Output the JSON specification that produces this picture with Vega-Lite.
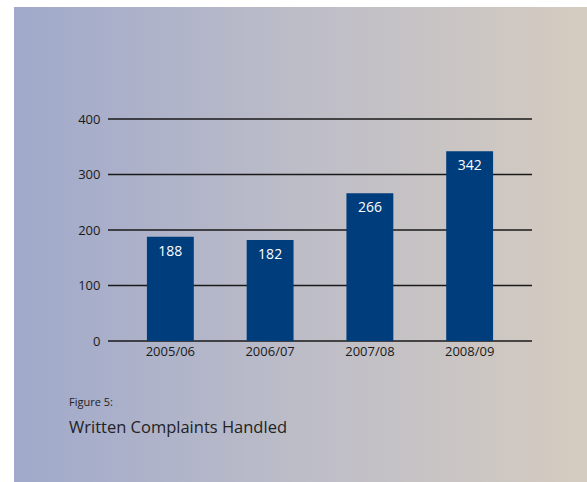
{
  "$schema": "https://vega.github.io/schema/vega-lite/v6.json",
  "width": 573,
  "height": 475,
  "autosize": {"type": "none"},
  "padding": {"left": 14, "top": 7, "right": 0, "bottom": 0},
  "background": "white",
  "config": {
    "view": {
      "stroke": null,
      "fill": {
        "gradient": "linear",
        "x1": 0, "y1": 0, "x2": 1, "y2": 0,
        "stops": [
          {"offset": 0, "color": "#a0a9cb"},
          {"offset": 0.5, "color": "#bdbdc8"},
          {"offset": 1, "color": "#d5ccc0"}
        ]
      }
    },
    "font": "Open Sans"
  },
  "title": {
    "text": "Figure 5:",
    "subtitle": "Written Complaints Handled",
    "orient": "top",
    "anchor": "start",
    "frame": "group",
    "offset": -429,
    "dx": 55,
    "fontSize": 11,
    "fontWeight": "normal",
    "color": "#222222",
    "subtitleFontSize": 16.5,
    "subtitleColor": "#222222",
    "subtitlePadding": 12
  },
  "data": {
    "values": [
      {"year": "2005/06", "complaints": 188},
      {"year": "2006/07", "complaints": 182},
      {"year": "2007/08", "complaints": 266},
      {"year": "2008/09", "complaints": 342}
    ]
  },
  "layer": [
    {
      "data": {"values": [{"v": 0}, {"v": 100}, {"v": 200}, {"v": 300}, {"v": 400}]},
      "mark": {"type": "rule", "color": "#1a1a1a", "strokeWidth": 1.4},
      "encoding": {
        "y": {"field": "v", "type": "quantitative", "scale": {"domain": [0, 400], "range": [334, 112], "nice": false},
          "axis": {"values": [0, 100, 200, 300, 400], "domain": false, "ticks": false, "grid": false, "labelPadding": 0, "offset": -86, "labelFontSize": 13, "labelColor": "#1a1a1a", "title": null}},
        "x": {"datum": 0, "type": "quantitative", "scale": {"domain": [0, 1], "range": [94, 518]}, "axis": null},
        "x2": {"datum": 1}
      }
    },
    {
      "layer": [
        {
          "mark": {"type": "bar", "color": "#003d7c"},
          "encoding": {
            "x": {"field": "year", "type": "nominal", "scale": {"range": [94, 518], "paddingInner": 0.53, "paddingOuter": 0.39},
              "axis": {"orient": "bottom", "offset": -141, "domain": false, "ticks": false, "labelPadding": 4, "labelAngle": 0, "labelFontSize": 13, "labelColor": "#1a1a1a", "title": null}},
            "y": {"field": "complaints", "type": "quantitative"}
          }
        },
        {
          "mark": {"type": "text", "color": "white", "baseline": "top", "dy": 8, "fontSize": 14},
          "encoding": {
            "x": {"field": "year", "type": "nominal"},
            "y": {"field": "complaints", "type": "quantitative"},
            "text": {"field": "complaints", "type": "quantitative"}
          }
        }
      ]
    }
  ],
  "resolve": {"scale": {"x": "independent"}}
}
